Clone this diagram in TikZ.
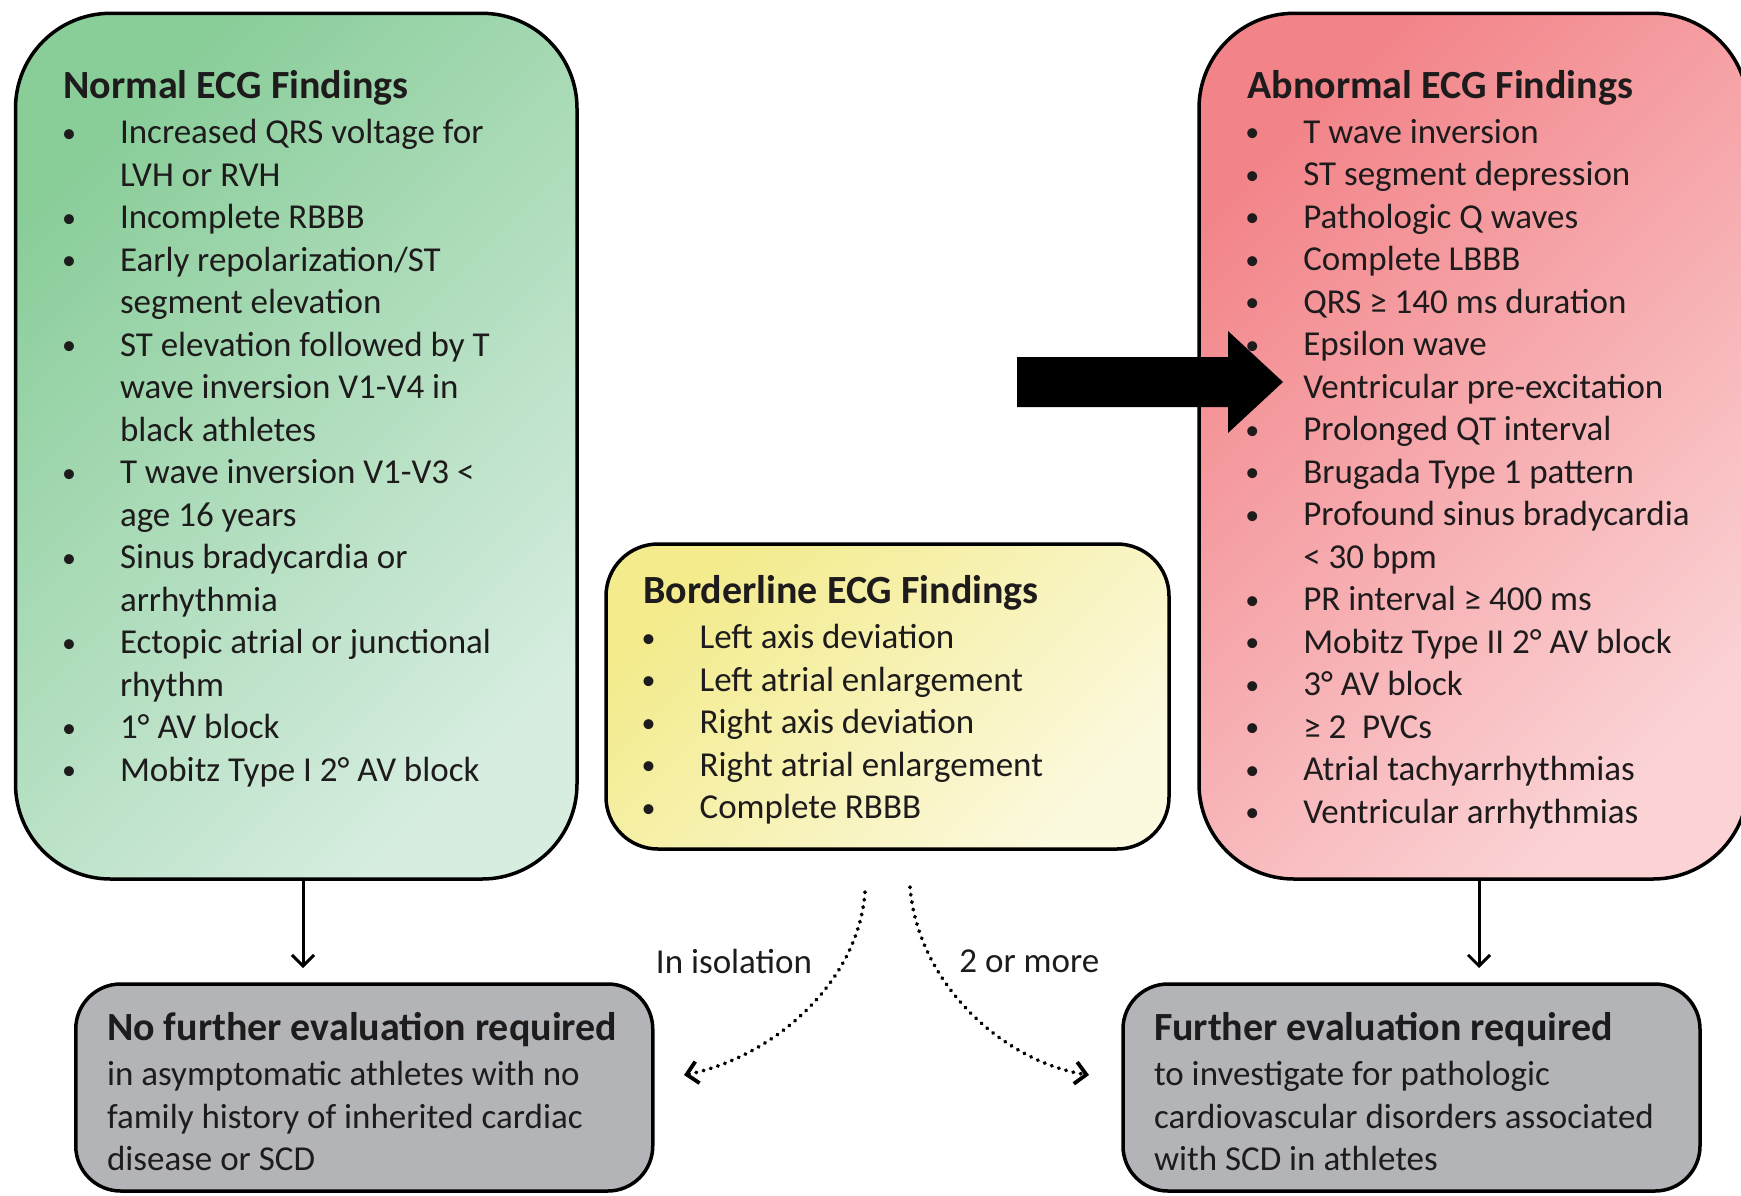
\documentclass[tikz,border=0pt]{standalone}
\usepackage{fontspec}
\setmainfont{Carlito}
\usepackage{tikz}
\usetikzlibrary{arrows.meta}
\definecolor{ink}{RGB}{30,27,28}
\definecolor{fill_green_a}{RGB}{137,205,153}
\definecolor{fill_green_b}{RGB}{214,237,224}
\definecolor{fill_yellow_a}{RGB}{243,235,140}
\definecolor{fill_yellow_b}{RGB}{251,249,222}
\definecolor{fill_red_a}{RGB}{242,132,137}
\definecolor{fill_red_b}{RGB}{251,211,213}
\definecolor{fill_gray}{RGB}{179,180,184}
\newlength{\bulw}\setlength{\bulw}{59.5pt}
\newcommand{\bul}{\makebox[\bulw][l]{\hspace*{1.5pt}\raisebox{1.5pt}{\fontsize{28}{30}\selectfont\textbullet}}}
\newcommand{\cnt}{\hspace*{\bulw}}

\begin{document}
\begin{tikzpicture}[x=1pt,y=-1pt,>={Straight Barb[length=11pt,width=22pt]},line width=3pt]
    \tikzstyle{box}=[draw=black, line width=3.5pt, inner sep=0pt]
    \tikzstyle{normalbox}=[style=box, rounded corners=95pt, top color=fill_green_a, bottom color=fill_green_b, shading angle=45, minimum width=561.5pt, minimum height=865.7pt]
    \tikzstyle{abnormalbox}=[style=box, rounded corners=95pt, top color=fill_red_a, bottom color=fill_red_b, shading angle=45, minimum width=549pt, minimum height=865.7pt]
    \tikzstyle{borderbox}=[style=box, rounded corners=52pt, top color=fill_yellow_a, bottom color=fill_yellow_b, shading angle=45, minimum width=563pt, minimum height=305pt]
    \tikzstyle{evalbox}=[style=box, rounded corners=45pt, fill=fill_gray, minimum width=577pt, minimum height=207pt]
    \tikzstyle{head}=[anchor=base west, inner sep=0pt, text=ink, font=\fontsize{40}{48}\selectfont\bfseries]
    \tikzstyle{list}=[anchor=north west, inner sep=0pt, align=left, text=ink, font=\fontsize{35}{42.5}\selectfont, execute at begin node=\strut]
    \tikzstyle{lbl}=[inner sep=0pt, text=ink, font=\fontsize{35}{42.5}\selectfont]
    \tikzstyle{dots}=[->, line width=3.8pt, dash pattern=on 0.5pt off 7pt, line cap=round]

    \path[fill=white, use as bounding box] (0,0) rectangle (1741,1195);

    % boxes
    \node[normalbox]   (normal)    at (296.25,446.15) {};
    \node[borderbox]   (border)    at (887.5,696.5)   {};
    \node[abnormalbox] (abnormal)  at (1473.5,446.15) {};
    \node[evalbox]     (nofurther) at (364.25,1087.5) {};
    \node[evalbox]     (further)   at (1411.5,1087.5) {};

    % texts
    \node[head] (normalhead) at (62,98) {Normal ECG Findings};
    \node[list] (normallist) at (59,117.75) {\bul Increased QRS voltage for\\ \cnt LVH or RVH\\ \bul Incomplete RBBB\\
        \bul Early repolarization/ST\\ \cnt segment elevation\\ \bul ST elevation followed by T\\
        \cnt wave inversion V1-V4 in\\ \cnt black athletes\\ \bul T wave inversion V1-V3 <\\
        \cnt age 16 years\\ \bul Sinus bradycardia or\\ \cnt arrhythmia\\
        \bul Ectopic atrial or junctional\\ \cnt rhythm\\ \bul 1° AV block\\ \bul Mobitz Type I 2° AV block};

    \node[head] (borderhead) at (641.8,603) {Borderline ECG Findings};
    \node[list] (borderlist) at (638.6,622.75) {\bul Left axis deviation\\ \bul Left atrial enlargement\\
        \bul Right axis deviation\\ \bul Right atrial enlargement\\ \bul Complete RBBB};

    \node[head] (abnormalhead) at (1245.8,98) {Abnormal ECG Findings};
    \node[list] (abnormallist) at (1242.3,117.75) {\bul T wave inversion\\ \bul ST segment depression\\
        \bul Pathologic Q waves\\ \bul Complete LBBB\\ \bul QRS ≥ 140 ms duration\\ \bul Epsilon wave\\
        \bul Ventricular pre-excitation\\ \bul Prolonged QT interval\\ \bul Brugada Type 1 pattern\\
        \bul Profound sinus bradycardia\\ \cnt < 30 bpm\\ \bul PR interval ≥ 400 ms\\
        \bul Mobitz Type II 2° AV block\\ \bul 3° AV block\\ \bul ≥ 2~~PVCs\\
        \bul Atrial tachyarrhythmias\\ \bul Ventricular arrhythmias};

    \node[head] (nofurtherhead) at (105.5,1040.5) {No further evaluation required};
    \node[list] (nofurtherlist) at (105.5,1059.75) {in asymptomatic athletes with no\\
        family history of inherited cardiac\\ disease or SCD};

    \node[head] (furtherhead) at (1152.5,1040.5) {Further evaluation required};
    \node[list] (furtherlist) at (1152.5,1059.75) {to investigate for pathologic\\
        cardiovascular disorders associated\\ with SCD in athletes};

    \node[lbl] (isolbl)  at (734,961.5)  {In isolation};
    \node[lbl] (morelbl) at (1029.3,961.5) {2 or more};

    % pointer
    \fill[black] (1017,357) -- (1228,357) -- (1228,331) -- (1283,382)
        -- (1228,433) -- (1228,407) -- (1017,407) -- cycle;

    % connectors
    \coordinate (normtip)   at (303,968);
    \coordinate (abntip)    at (1479,968);
    \coordinate (isostart)  at (865,892);
    \coordinate (isoend)    at (684,1075);
    \coordinate (morestart) at (910,887);
    \coordinate (moreend)   at (1089,1075);

    \path
     (normal.south -| normtip) edge[->] (normtip)
     (abnormal.south -| abntip) edge[->] (abntip)
     ;
    \draw[dots] (isostart) .. controls +(-7,93) and +(86,-17) .. (isoend);
    \draw[dots] (morestart) .. controls +(8,98) and +(-84,-13) .. (moreend);
\end{tikzpicture}
\end{document}
